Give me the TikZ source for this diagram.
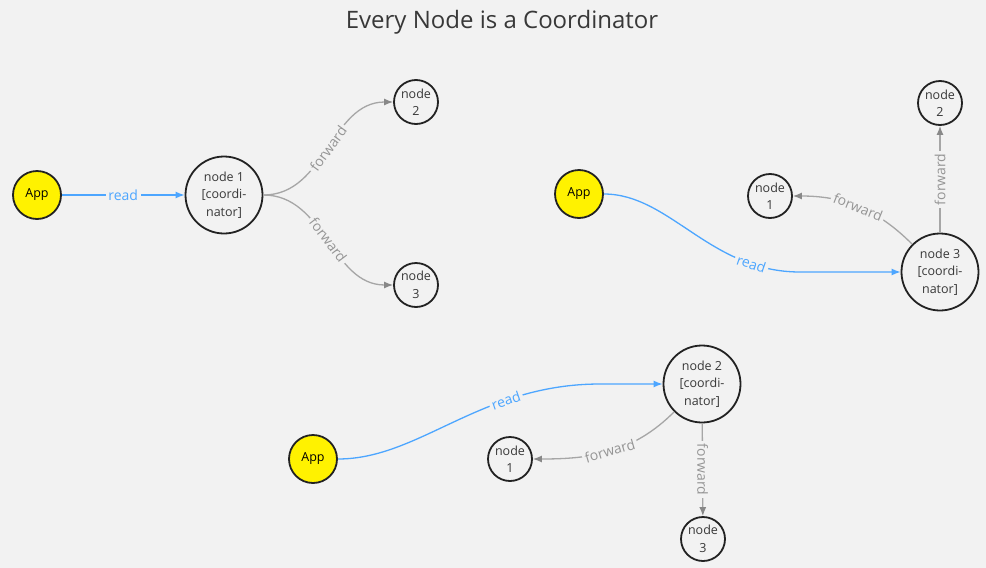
\documentclass[tikz,border=0pt]{standalone}
\usepackage{fontspec}
\setmainfont{Open Sans}
\usetikzlibrary{arrows.meta}
\definecolor{bg}{HTML}{F2F2F2}
\definecolor{readblue}{HTML}{4DA6FF}
\definecolor{fwdgrey}{HTML}{A6A6A6}
\definecolor{tipgrey}{HTML}{888888}
\definecolor{ink}{HTML}{222222}

\tikzset{
  edge label/.style={fill=bg,inner sep=2.5pt,font=\fontsize{14}{14}\selectfont}
}

\begin{document}
\begin{tikzpicture}[x=1pt, y=1pt]
        \tikzstyle{app}=[circle,draw=ink,line width=1.8pt,fill=yellow,minimum size=48pt,inner sep=0pt,font=\fontsize{12.5}{14}\selectfont]
        \tikzstyle{member}=[circle,draw=ink,line width=1.8pt,fill=bg,minimum size=44pt,inner sep=0pt,align=center,text=ink!90,font=\fontsize{12.5}{17.5}\selectfont]
        \tikzstyle{coordinator}=[member,minimum size=77pt]
        \tikzstyle{read}=[draw=readblue,line width=1.3pt,-{Latex[length=9pt,width=7pt]}]
        \tikzstyle{forward}=[draw=fwdgrey,line width=1.3pt,-{Latex[length=9pt,width=7pt,color=tipgrey]}]
        \tikzstyle{rlabel}=[edge label,text=readblue]
        \tikzstyle{flabel}=[edge label,text=fwdgrey!90!black]

        \fill[bg] (0,0) rectangle (986,-568);
        \useasboundingbox (0,0) rectangle (986,-568);

        \node[font=\fontsize{24}{28}\selectfont,text=ink!90] (T) at (502,-22) {Every Node is a Coordinator};

        % node 1 as coordinator
        \node[app] (A_1) at (37,-195) {App};
        \node[coordinator] (N_11) at (224,-195) {node 1\\{[coordi-}\\nator]};
        \node[member] (N_12) at (416,-102) {node\\2};
        \node[member] (N_13) at (416,-285) {node\\3};

        \draw[read] (A_1) -- (N_11) node[midway,rlabel] {read};
        \draw[forward] (N_11) to[out=0,in=180] node[midway,sloped,flabel] {forward} (N_12);
        \draw[forward] (N_11) to[out=0,in=180] node[midway,sloped,flabel] {forward} (N_13);

        % node 3 as coordinator
        \node[app] (A_2) at (579,-194) {App};
        \node[member] (N_21) at (770,-196) {node\\1};
        \node[member] (N_22) at (940,-103) {node\\2};
        \node[coordinator] (N_23) at (940,-272) {node 3\\{[coordi-}\\nator]};
        \coordinate (R_2) at (800,-272);

        \draw[read] (A_2) .. controls (670,-194) and (710,-272) .. (R_2) node[pos=0.8,sloped,rlabel] {read} -- (N_23);
        \draw[forward] (N_23) to[out=135,in=0] node[midway,sloped,flabel] {forward} (N_21);
        \draw[forward] (N_23) -- (N_22) node[midway,rotate=90,flabel] {forward};

        % node 2 as coordinator
        \node[app] (A_3) at (313,-459) {App};
        \node[member] (N_31) at (510,-459) {node\\1};
        \node[coordinator] (N_32) at (702,-384) {node 2\\{[coordi-}\\nator]};
        \node[member] (N_33) at (703,-539) {node\\3};
        \coordinate (R_3) at (600,-384);

        \draw[read] (A_3) .. controls (420,-459) and (480,-384) .. (R_3) node[pos=0.7,sloped,rlabel] {read} -- (N_32);
        \draw[forward] (N_32) to[out=225,in=0] node[midway,sloped,flabel] {forward} (N_31);
        \draw[forward] (N_32) -- (N_33) node[midway,rotate=-90,flabel] {forward};
\end{tikzpicture}
\end{document}
